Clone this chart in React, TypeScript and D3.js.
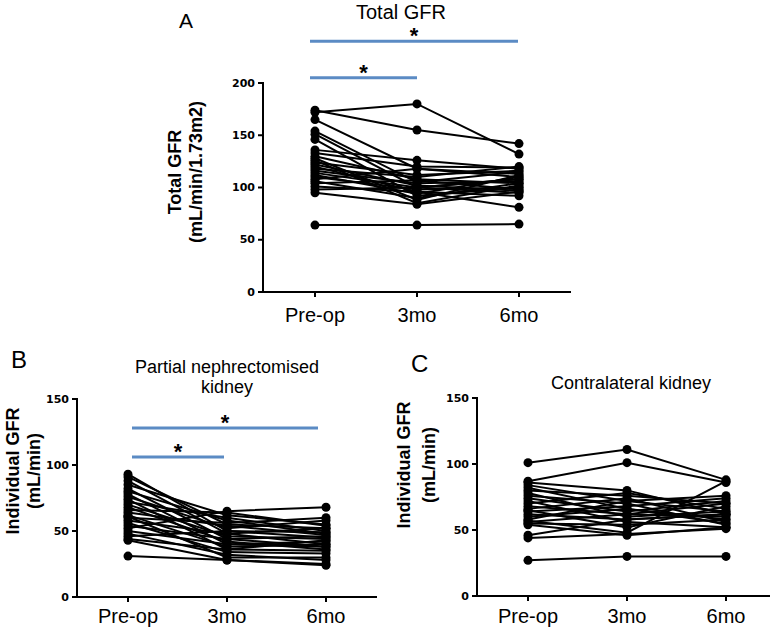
import React from "react";
import * as d3 from "d3";

const categories = ["Pre-op", "3mo", "6mo"];

// Panel A: Total GFR (mL/min/1.73m2)
const totalPreop = [172, 174, 165, 154, 151, 146, 136, 133, 130, 128, 126, 124, 122, 120, 118, 116, 114, 112, 110, 108, 106, 104, 101, 98, 95, 64];
const total3mo = [180, 155, 118, 105, 100, 92, 126, 120, 108, 88, 85, 112, 102, 96, 110, 104, 100, 94, 98, 118, 90, 107, 96, 100, 84, 64];
const total6mo = [132, 142, 110, 115, 108, 100, 118, 119, 104, 112, 102, 116, 97, 81, 120, 106, 95, 110, 100, 113, 104, 98, 92, 108, 96, 65];
const totalTicks = [0, 50, 100, 150, 200];

// Panel B: Partial nephrectomised kidney (mL/min)
const partialPreop = [93, 91, 88, 85, 82, 80, 78, 76, 74, 72, 70, 68, 66, 64, 62, 61, 60, 58, 56, 54, 52, 50, 48, 46, 44, 43, 31];
const partial3mo = [50, 55, 48, 62, 44, 58, 40, 52, 36, 60, 46, 42, 64, 54, 38, 30, 56, 48, 34, 44, 65, 40, 32, 50, 36, 28, 28];
const partial6mo = [45, 52, 40, 55, 38, 48, 42, 58, 35, 50, 44, 36, 54, 47, 40, 30, 60, 52, 33, 46, 68, 38, 28, 49, 43, 24, 25];

// Panel C: Contralateral kidney (mL/min)
const contraPreop = [101, 87, 86, 84, 82, 80, 78, 76, 74, 72, 70, 68, 66, 65, 64, 62, 60, 58, 57, 56, 55, 54, 46, 44, 27];
const contra3mo = [111, 101, 80, 72, 66, 76, 60, 70, 64, 56, 78, 62, 74, 52, 68, 58, 66, 72, 48, 62, 54, 46, 58, 47, 30];
const contra6mo = [88, 86, 62, 76, 58, 70, 64, 54, 72, 52, 66, 60, 56, 68, 74, 62, 55, 64, 87, 70, 58, 52, 62, 51, 30];
const kidneyTicks = [0, 50, 100, 150];

const FONT = "'Liberation Sans', Arial, Helvetica, sans-serif";
const TICKFONT = "'DejaVu Sans', sans-serif";
const BLUE = "#5b8bc4";

type Sig = { from: number; to: number; value: number; dx1: number; dx2: number };

type PanelProps = {
  letter: string;
  letterX: number;
  letterY: number;
  letterSize: number;
  titleLines: string[];
  titleX: number;
  titleY: number;
  titleSize: number;
  yLabels: string[];
  yLabelX: number[];
  yLabelY: number;
  axisLeft: number;
  axisRight: number;
  catLeft: number;
  catRight: number;
  yBottom: number;
  yTop: number;
  yMax: number;
  ticks: number[];
  xLabelY: number;
  series: number[][];
  sigs: Sig[];
};

function Panel(p: PanelProps) {
  const x = d3.scalePoint<string>().domain(categories).range([p.catLeft, p.catRight]);
  const y = d3.scaleLinear().domain([0, p.yMax]).range([p.yBottom, p.yTop]);
  const n = p.series[0].length;
  const subjects = d3.range(n).map((i) => p.series.map((s) => s[i]));
  const line = d3
    .line<number>()
    .x((_, j) => x(categories[j]) as number)
    .y((v) => y(v));
  return (
    <g>
      <text x={p.letterX} y={p.letterY} fontSize={p.letterSize} fontFamily={FONT}>
        {p.letter}
      </text>
      {p.titleLines.map((t, i) => (
        <text key={t} x={p.titleX} y={p.titleY + i * 20} fontSize={p.titleSize} fontFamily={FONT} textAnchor="middle">
          {t}
        </text>
      ))}
      {p.yLabels.map((t, i) => (
        <text
          key={t}
          transform={`translate(${p.yLabelX[i]},${p.yLabelY}) rotate(-90)`}
          fontSize={18}
          fontWeight="bold"
          fontFamily={FONT}
          textAnchor="middle"
          dominantBaseline="central"
        >
          {t}
        </text>
      ))}
      {/* axes */}
      <line x1={p.axisLeft} x2={p.axisLeft} y1={p.yTop - 1} y2={p.yBottom + 1} stroke="#000" strokeWidth={2} />
      <line x1={p.axisLeft - 1} x2={p.axisRight} y1={p.yBottom} y2={p.yBottom} stroke="#000" strokeWidth={2} />
      {p.ticks.map((t) => (
        <g key={t}>
          <line x1={p.axisLeft - 5} x2={p.axisLeft} y1={y(t)} y2={y(t)} stroke="#000" strokeWidth={2} />
          <text
            x={p.axisLeft - 8}
            y={y(t)}
            fontSize={11}
            fontWeight="bold"
            fontFamily={TICKFONT}
            textAnchor="end"
            dominantBaseline="central"
          >
            {t}
          </text>
        </g>
      ))}
      {categories.map((c) => (
        <g key={c}>
          <line x1={x(c)} x2={x(c)} y1={p.yBottom} y2={p.yBottom + 5} stroke="#000" strokeWidth={2} />
          <text x={x(c)} y={p.xLabelY} fontSize={20} fontFamily={FONT} textAnchor="middle">
            {c}
          </text>
        </g>
      ))}
      {/* significance bars */}
      {p.sigs.map((s, i) => {
        const x1 = (x(categories[s.from]) as number) + s.dx1;
        const x2 = (x(categories[s.to]) as number) + s.dx2;
        return (
          <g key={i}>
            <line x1={x1} x2={x2} y1={y(s.value)} y2={y(s.value)} stroke={BLUE} strokeWidth={3} />
            <text
              x={(x1 + x2) / 2}
              y={y(s.value) + 2}
              fontSize={22}
              fontWeight="bold"
              fontFamily={FONT}
              textAnchor="middle"
            >
              *
            </text>
          </g>
        );
      })}
      {/* data */}
      {subjects.map((s, i) => (
        <path key={"l" + i} d={line(s) || ""} fill="none" stroke="#000" strokeWidth={2} />
      ))}
      {subjects.map((s, i) =>
        s.map((v, j) => <circle key={"c" + i + "-" + j} cx={x(categories[j])} cy={y(v)} r={4.5} fill="#000" />)
      )}
    </g>
  );
}

export default function App() {
  return (
    <svg width={777} height={628} style={{ position: "absolute", left: 0, top: 0, background: "#fff" }}>
      <rect width={777} height={628} fill="#fff" />
      <Panel
        letter="A"
        letterX={179}
        letterY={28}
        letterSize={21}
        titleLines={["Total GFR"]}
        titleX={401}
        titleY={19}
        titleSize={20}
        yLabels={["Total GFR", "(mL/min/1.73m2)"]}
        yLabelX={[175, 196]}
        yLabelY={172}
        axisLeft={263}
        axisRight={571}
        catLeft={315}
        catRight={519}
        yBottom={292}
        yTop={83}
        yMax={200}
        ticks={totalTicks}
        xLabelY={322}
        series={[totalPreop, total3mo, total6mo]}
        sigs={[
          { from: 0, to: 2, value: 240, dx1: -5, dx2: -1 },
          { from: 0, to: 1, value: 205, dx1: -5, dx2: 0 },
        ]}
      />
      <Panel
        letter="B"
        letterX={11}
        letterY={368}
        letterSize={24}
        titleLines={["Partial nephrectomised", "kidney"]}
        titleX={227}
        titleY={373}
        titleSize={18}
        yLabels={["Individual GFR", "(mL/min)"]}
        yLabelX={[13, 34]}
        yLabelY={471}
        axisLeft={77}
        axisRight={377}
        catLeft={128}
        catRight={326}
        yBottom={597}
        yTop={399}
        yMax={150}
        ticks={kidneyTicks}
        xLabelY={623}
        series={[partialPreop, partial3mo, partial6mo]}
        sigs={[
          { from: 0, to: 2, value: 128, dx1: 4, dx2: -8 },
          { from: 0, to: 1, value: 106, dx1: 4, dx2: -3 },
        ]}
      />
      <Panel
        letter="C"
        letterX={411}
        letterY={372}
        letterSize={24}
        titleLines={["Contralateral kidney"]}
        titleX={631}
        titleY={389}
        titleSize={18}
        yLabels={["Individual GFR", "(mL/min)"]}
        yLabelX={[404, 429]}
        yLabelY={465}
        axisLeft={477}
        axisRight={770}
        catLeft={528}
        catRight={726}
        yBottom={596}
        yTop={398}
        yMax={150}
        ticks={kidneyTicks}
        xLabelY={623}
        series={[contraPreop, contra3mo, contra6mo]}
        sigs={[]}
      />
    </svg>
  );
}
